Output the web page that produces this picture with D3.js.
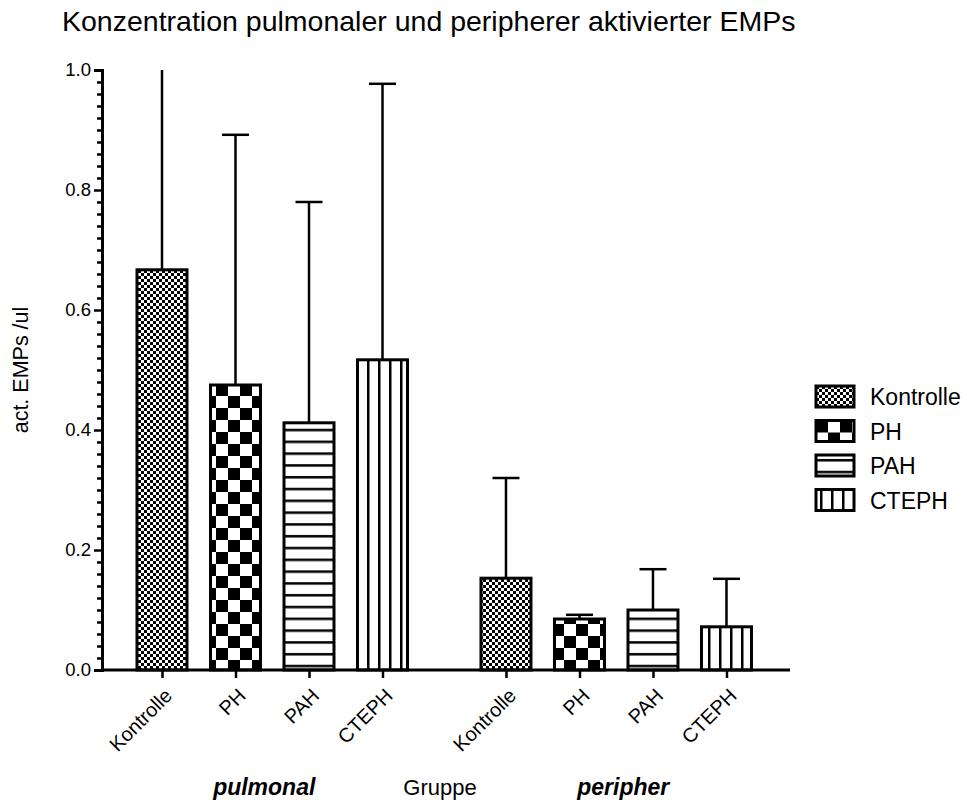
<!DOCTYPE html>
<html lang="de">
<head>
<meta charset="UTF-8">
<title>Konzentration pulmonaler und peripherer aktivierter EMPs</title>
<script src="https://d3js.org/d3.v7.min.js"></script>
<style>
  body { margin: 0; background: #fff; }
  text { font-family: "Liberation Sans", Arial, sans-serif; fill: #000; }
</style>
</head>
<body>
<script>
  // data
  var groups = ["pulmonal", "peripher"];
  var categories = ["Kontrolle", "PH", "PAH", "CTEPH"];
  var means = [0.667, 0.475, 0.412, 0.517, 0.153, 0.085, 0.100, 0.072];
  var errTop = [1.06, 0.892, 0.780, 0.977, 0.320, 0.092, 0.168, 0.152];
  var yTicks = [0, 0.2, 0.4, 0.6, 0.8, 1.0];

  var width = 967, height = 802;
  var svg = d3.select("body").append("svg")
    .attr("width", width).attr("height", height);

  // patterns
  var defs = svg.append("defs");
  var p1 = defs.append("pattern").attr("id", "pat0").attr("patternUnits", "userSpaceOnUse")
    .attr("width", 6).attr("height", 6);
  p1.append("rect").attr("width", 6).attr("height", 6).attr("fill", "#fff");
  p1.append("rect").attr("width", 3).attr("height", 3).attr("fill", "#000");
  p1.append("rect").attr("x", 3).attr("y", 3).attr("width", 3).attr("height", 3).attr("fill", "#000");

  var p2 = defs.append("pattern").attr("id", "pat1").attr("patternUnits", "userSpaceOnUse")
    .attr("width", 24).attr("height", 24);
  p2.append("rect").attr("width", 24).attr("height", 24).attr("fill", "#fff");
  p2.append("rect").attr("width", 12).attr("height", 12).attr("fill", "#000");
  p2.append("rect").attr("x", 12).attr("y", 12).attr("width", 12).attr("height", 12).attr("fill", "#000");

  var p3 = defs.append("pattern").attr("id", "pat2").attr("patternUnits", "userSpaceOnUse")
    .attr("width", 12).attr("height", 11.8);
  p3.append("rect").attr("width", 12).attr("height", 11.8).attr("fill", "#fff");
  p3.append("rect").attr("y", 4).attr("width", 12).attr("height", 2.5).attr("fill", "#000");

  var p4 = defs.append("pattern").attr("id", "pat3").attr("patternUnits", "userSpaceOnUse")
    .attr("width", 11).attr("height", 12);
  p4.append("rect").attr("width", 11).attr("height", 12).attr("fill", "#fff");
  p4.append("rect").attr("x", 4).attr("width", 2.5).attr("height", 12).attr("fill", "#000");

  // scales
  var y = d3.scaleLinear().domain([0, 1]).range([670, 70]);
  var slot = d3.scaleLinear().domain([0, 1]).range([162, 235.5]);
  var keys = [];
  var slotPos = [];
  groups.forEach(function (g, gi) {
    categories.forEach(function (c, ci) {
      keys.push(g + "|" + c);
      slotPos.push(slot(gi * 4 + ci + gi * 0.68));
    });
  });
  var x = d3.scaleOrdinal().domain(keys).range(slotPos);
  var barW = 50;

  var data = keys.map(function (k, i) {
    return { key: k, cat: k.split("|")[1], ci: i % 4, mean: means[i], err: errTop[i] };
  });

  // title
  svg.append("text").attr("x", 62).attr("y", 31)
    .attr("font-size", 28.5).text("Konzentration pulmonaler und peripherer aktivierter EMPs");

  // clip for error bars exceeding axis
  defs.append("clipPath").attr("id", "plotclip")
    .append("rect").attr("x", 0).attr("y", y(1)).attr("width", width).attr("height", y(0) - y(1) + 10);

  // error bars
  var eb = svg.append("g").attr("clip-path", "url(#plotclip)")
    .selectAll("g").data(data).enter().append("g");
  eb.append("line")
    .attr("x1", function (d) { return x(d.key); })
    .attr("x2", function (d) { return x(d.key); })
    .attr("y1", function (d) { return y(d.mean); })
    .attr("y2", function (d) { return y(d.err); })
    .attr("stroke", "#000").attr("stroke-width", 2.5);
  eb.append("line")
    .attr("x1", function (d) { return x(d.key) - 13.5; })
    .attr("x2", function (d) { return x(d.key) + 13.5; })
    .attr("y1", function (d) { return y(d.err); })
    .attr("y2", function (d) { return y(d.err); })
    .attr("stroke", "#000").attr("stroke-width", 2.5);

  // bars
  svg.append("g").selectAll("rect").data(data).enter().append("rect")
    .attr("x", function (d) { return x(d.key) - barW / 2; })
    .attr("y", function (d) { return y(d.mean); })
    .attr("width", barW)
    .attr("height", function (d) { return y(0) - y(d.mean); })
    .attr("fill", function (d) { return "url(#pat" + d.ci + ")"; })
    .attr("stroke", "#000").attr("stroke-width", 3);

  // y axis
  var yAxis = svg.append("g").attr("transform", "translate(102,0)")
    .call(d3.axisLeft(y).tickValues(yTicks).tickFormat(d3.format(".1f")).tickSize(8).tickPadding(3));
  svg.append("g").attr("transform", "translate(102,0)")
    .call(d3.axisLeft(y).tickValues(d3.range(0, 51).map(function (i) { return i / 50; })
      .filter(function (v, i) { return i % 10 !== 0; })).tickFormat("").tickSize(5))
    .select(".domain").remove();
  svg.selectAll(".tick line").attr("stroke-width", 2.5);
  yAxis.select(".domain").attr("stroke-width", 3);
  yAxis.selectAll("text").attr("font-size", 18.5).attr("fill", "#222");

  // x axis
  var xAxis = svg.append("g").attr("transform", "translate(0,670)")
    .call(d3.axisBottom(x).tickSizeOuter(0).tickSize(8).tickFormat(function (k) { return k.split("|")[1]; }));
  xAxis.select(".domain").attr("d", "M102,0H790").attr("stroke-width", 3);
  xAxis.selectAll(".tick line").attr("stroke-width", 2.5);
  xAxis.selectAll("text")
    .attr("font-size", 20).attr("fill", "#222")
    .attr("text-anchor", "end")
    .attr("dy", "0.35em").attr("y", 0).attr("x", 0)
    .attr("transform", "translate(6,22) rotate(-45)");

  // axis titles
  svg.append("text").attr("transform", "translate(28,370) rotate(-90)")
    .attr("text-anchor", "middle").attr("font-size", 21.5).attr("fill", "#222").text("act. EMPs /ul");
  svg.append("text").attr("x", 440).attr("y", 795).attr("text-anchor", "middle")
    .attr("font-size", 22).attr("fill", "#222").text("Gruppe");
  var grpShift = [-8, 7];
  svg.selectAll(".grp").data(groups).enter().append("text")
    .attr("x", function (g, gi) {
      return (x(g + "|" + categories[0]) + x(g + "|" + categories[3])) / 2 + grpShift[gi];
    })
    .attr("y", 795).attr("text-anchor", "middle")
    .attr("font-size", 23).attr("font-weight", "bold").attr("font-style", "italic")
    .text(function (g) { return g; });

  // legend
  var leg = svg.append("g").selectAll("g").data(categories).enter().append("g")
    .attr("transform", function (d, i) { return "translate(816," + (386 + i * 34.5) + ")"; });
  leg.append("rect").attr("width", 38).attr("height", 21)
    .attr("fill", function (d, i) { return "url(#pat" + i + ")"; })
    .attr("stroke", "#000").attr("stroke-width", 3);
  leg.append("text").attr("x", 54).attr("y", 11).attr("dy", "0.35em")
    .attr("font-size", 23).attr("fill", "#222").text(function (d) { return d; });
</script>
</body>
</html>
